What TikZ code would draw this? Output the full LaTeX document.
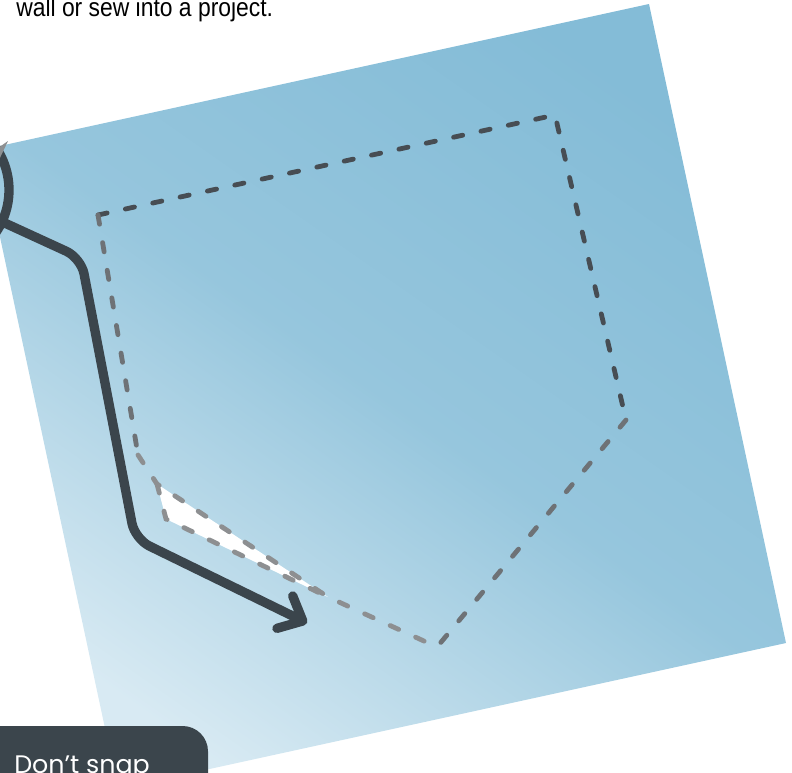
\documentclass[tikz,border=0pt]{standalone}
\usepackage{fontspec}
\usetikzlibrary{arrows.meta, positioning}
\newfontfamily\captionfont{Liberation Sans}[FakeStretch=0.88]
\newfontfamily\tipfont{Poppins}
\definecolor{Pocket_Dark}{HTML}{84BCD7}
\definecolor{Pocket_Mid}{HTML}{96C6DD}
\definecolor{Pocket_Light}{HTML}{D8EAF3}
\definecolor{Slate}{HTML}{3B454C}
\definecolor{Stitch_Dark}{HTML}{474D53}
\definecolor{Stitch_Mid}{HTML}{6E7276}
\definecolor{Stitch_Light}{HTML}{8D8F91}

\begin{document}
\begin{tikzpicture}[x=0.75pt, y=-0.75pt,
    stitch/.style={line width=3.6pt, line cap=round, dash pattern=on 7pt off 14pt},
    pointer/.style={draw=Slate, line width=7pt, line cap=round, rounded corners=12pt,
        -{Straight Barb[length=15pt, width=27pt, round]}}]
    \useasboundingbox (0,0) rectangle (792,772);
    \clip (0,0) rectangle (792,772);

    % Panel
    \shade[top color=Pocket_Dark, bottom color=Pocket_Light, middle color=Pocket_Mid, shading angle=-35]
        (-18.6,150) -- (649,4) -- (786,643) -- (118,789) -- cycle;

    % Pocket outline
    \coordinate (p1) at (98,215);
    \coordinate (p2) at (555,115);
    \coordinate (p3) at (626,420);
    \coordinate (p4) at (437,647);
    \coordinate (p5) at (138,455);
    \coordinate (fold) at (157,484);
    \coordinate (foldlow) at (166,519);
    \coordinate (merge) at (328,597);

    \fill[white] (fold) -- (foldlow) -- (merge) -- cycle;
    \draw[stitch, Stitch_Dark] (p1) -- (p2) -- (p3);
    \draw[stitch, Stitch_Mid] (p3) -- (p4);
    \draw[stitch, Stitch_Mid] (p1) -- (p5);
    \draw[stitch, Stitch_Light] (p5) -- (fold) -- (merge) -- (p4);
    \draw[stitch, Stitch_Light] (fold) -- (foldlow) -- (merge);

    % Pointer
    \node[circle, draw=Slate, line width=7pt, minimum size=112.5pt, inner sep=0pt] (lens) at (-66,190) {};
    \fill[Stitch_Light] (-2,148) -- (8,141) -- (-2,162) -- cycle;
    \coordinate (elbow1) at (81,258);
    \coordinate (elbow2) at (135,539);
    \coordinate (pockettip) at (307,623);
    \draw[pointer] (lens.-25) -- (elbow1) -- (elbow2) -- (pockettip);

    % Texts
    \node[font=\captionfont\fontsize{19.5pt}{22pt}\selectfont, anchor=base west, inner sep=0pt] (caption) at (16,16) {wall or sew into a project.};
    \fill[Slate] (-20,800) -- (-20,726) [rounded corners=19pt] -- (208,726) -- (208,800) [sharp corners] -- cycle;
    \node[font=\tipfont\fontsize{19pt}{22pt}\selectfont, text=white, anchor=base west, inner sep=0pt] (tip) at (14,773) {Don’t snap};
\end{tikzpicture}
\end{document}
